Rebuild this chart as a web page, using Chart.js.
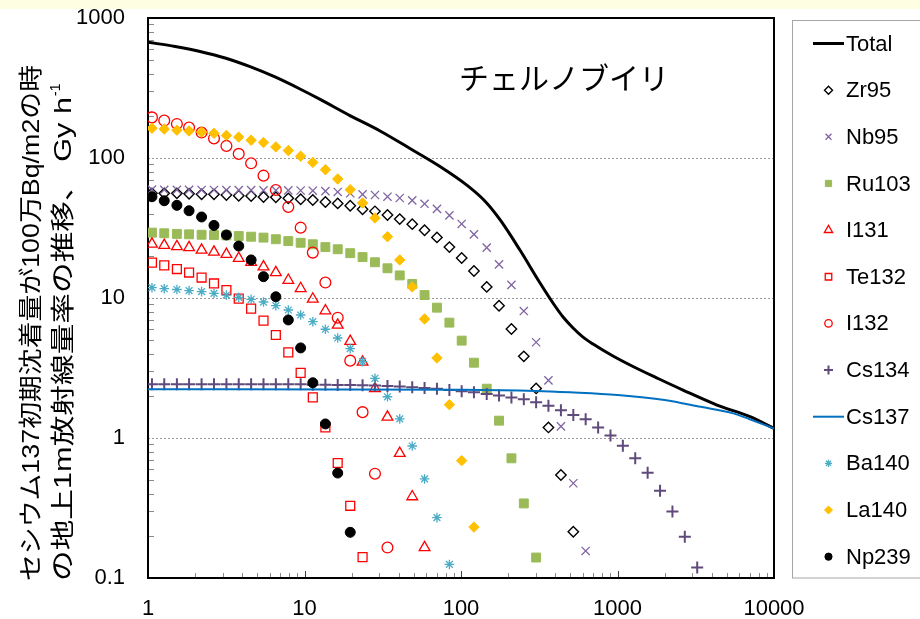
<!DOCTYPE html>
<html>
<head>
<meta charset="utf-8">
<script src="https://cdn.jsdelivr.net/npm/chart.js@4.4.0/dist/chart.umd.min.js"></script>
<style>
  html, body { margin: 0; padding: 0; background: #ffffff; }
  canvas { display: block; }
</style>
</head>
<body>
<canvas id="chart" width="920" height="619"></canvas>
<script>
// Elapsed time after deposition (days) at which each nuclide is sampled
const days = [1.06, 1.27, 1.53, 1.83, 2.2, 2.64, 3.17, 3.8, 4.56, 5.47, 6.56, 7.88, 9.45, 11.3, 13.6,
  16.3, 19.6, 23.5, 28.2, 33.9, 40.6, 48.8, 58.5, 70.2, 84.3, 101, 121, 146, 175, 210, 252, 302, 362,
  435, 522, 626, 752, 902, 1082, 1298, 1558, 1870, 2244, 2692, 3231];

// Dose rate at 1 m above ground per nuclide, one value per entry of `days`
const zr95 = [55.9, 55.9, 55.9, 55.6, 55.0, 55.0, 54.4, 53.8, 53.5, 52.6, 52.4, 51.5, 50.7, 50.1, 48.5,
  47.4, 45.6, 43.0, 41.6, 39.2, 36.6, 33.7, 30.5, 27.1, 23.1, 19.3, 15.6, 12.0, 8.81, 6.01, 3.83, 2.26,
  1.19, 0.544, 0.214];
const nb95 = [59.4, 59.3, 59.3, 59.2, 59.1, 59.1, 59.0, 59.0, 58.9, 58.8, 58.8, 58.7, 58.6, 58.4, 58.0,
  57.2, 56.0, 55.0, 54.4, 52.9, 51.8, 49.8, 47.1, 43.3, 38.9, 33.8, 28.5, 22.9, 17.4, 12.4, 8.07, 4.83,
  2.58, 1.21, 0.475, 0.156];
const ru103 = [29.3, 29.0, 28.7, 28.5, 28.3, 28.2, 28.0, 27.7, 27.4, 27.0, 26.3, 25.5, 24.8, 24.2, 23.1,
  22.3, 20.9, 19.6, 18.0, 16.3, 14.5, 12.6, 10.5, 8.53, 6.67, 4.96, 3.45, 2.25, 1.33, 0.716, 0.341, 0.140];
const i131 = [24.3, 23.8, 23.3, 22.9, 22.0, 21.3, 20.5, 19.2, 18.0, 16.7, 15.2, 13.4, 11.7, 9.84, 8.11,
  6.41, 4.90, 3.49, 2.26, 1.41, 0.777, 0.381, 0.165];
const te132 = [17.9, 17.1, 16.1, 15.2, 14.0, 12.7, 11.4, 9.89, 8.39, 6.89, 5.44, 4.09, 2.92, 1.95, 1.19,
  0.663, 0.328, 0.141];
const i132 = [195, 185, 175, 165, 152, 138, 122, 107, 91.7, 74.8, 59.1, 44.7, 31.8, 21.1, 12.9, 7.23,
  3.57, 1.53, 0.556, 0.165];
const cs134 = [2.42, 2.42, 2.42, 2.42, 2.42, 2.42, 2.42, 2.42, 2.42, 2.42, 2.42, 2.42, 2.42, 2.40, 2.40,
  2.39, 2.39, 2.38, 2.37, 2.35, 2.33, 2.30, 2.28, 2.25, 2.20, 2.16, 2.12, 2.06, 2.01, 1.95, 1.89, 1.80,
  1.70, 1.58, 1.46, 1.36, 1.19, 1.04, 0.88, 0.716, 0.565, 0.42, 0.298, 0.197, 0.119];
const ba140 = [11.85, 11.65, 11.5, 11.3, 11.1, 10.8, 10.5, 10.1, 9.79, 9.36, 8.81, 8.21, 7.56, 6.77, 5.98,
  5.18, 4.35, 3.51, 2.67, 1.97, 1.37, 0.877, 0.51, 0.27, 0.125];
const la140 = [163, 161, 158, 156, 153, 150, 145, 141, 134, 129, 120, 113, 103, 93, 82.5, 70.8, 59.4,
  47.7, 37.3, 27.4, 18.7, 12.0, 7.08, 3.73, 1.73, 0.689, 0.231];
const np239 = [52.9, 49.5, 45.9, 42.0, 37.9, 33.0, 28.2, 23.5, 18.7, 14.2, 10.2, 6.97, 4.40, 2.48, 1.26,
  0.562, 0.212];

// Continuous curves: Cs-137 and the sum of all nuclides
const cs137Days = [1, 100, 300, 500, 1000, 2000, 3400, 5500, 7000, 10000];
const cs137 = [2.23, 2.21, 2.17, 2.12, 2.03, 1.87, 1.67, 1.50, 1.36, 1.17];
const totalDays = [1, 1.49, 2.15, 3.11, 4.49, 6.48, 9.36, 12.6, 19.5, 30.4, 47.2, 73.4, 109, 142, 178,
  238, 320, 387, 449, 520, 602, 698, 936, 1256, 1815, 2621, 4323, 7026, 10000];
const total = [671, 626, 577, 518, 449, 379, 311, 262, 201, 156, 117, 87, 64, 49.3, 36.1,
  22.0, 12.8, 9.21, 7.31, 6.11, 5.26, 4.69, 3.85, 3.24, 2.66, 2.20, 1.72, 1.42, 1.17];

// Axis tick labels (one per decade)
const xTickLabels = ['1', '10', '100', '1000', '10000'];
const yTickLabels = ['0.1', '1', '10', '100', '1000'];

const chartTitle = 'チェルノブイリ';
const yTitleLine1 = 'セシウム137初期沈着量が100万Bq/m2の時';
const yTitleLine2 = 'の地上1m放射線量率の推移、 Gy h';
const yTitleSup = '-1';

// Marker appearance per nuclide
const markerStyles = {
  Zr95:  { pointStyle: 'rectRot',  radius: 5.2, color: '#000000', fill: false, bw: 1.4, legendR: 4 },
  Nb95:  { pointStyle: 'crossRot', radius: 5.8, color: '#8064A2', fill: false, bw: 1.3, legendR: 4.2 },
  Ru103: { pointStyle: 'rect',     radius: 6.3, color: '#9BBB59', fill: true,  bw: 1,   legendR: 4.4 },
  I131:  { pointStyle: 'triangle', radius: 6.2, color: '#FF0000', fill: false, bw: 1.3, legendR: 4.8 },
  Te132: { pointStyle: 'rect',     radius: 6.3, color: '#FF0000', fill: false, bw: 1.3, legendR: 4.6 },
  I132:  { pointStyle: 'circle',   radius: 5.4, color: '#FF0000', fill: false, bw: 1.3, legendR: 3.7 },
  Cs134: { pointStyle: 'cross',    radius: 6,   color: '#604A7B', fill: false, bw: 2,   legendR: 4.5 },
  Ba140: { pointStyle: 'star',     radius: 4.8, color: '#4BACC6', fill: false, bw: 1.3, legendR: 3.6 },
  La140: { pointStyle: 'rectRot',  radius: 5.2, color: '#FFC000', fill: true,  bw: 1,   legendR: 4 },
  Np239: { pointStyle: 'circle',   radius: 5,   color: '#000000', fill: true,  bw: 1,   legendR: 3.6 }
};

const pairs = (xs, ys) => ys.map((v, i) => ({ x: xs[i], y: v }));

function markerSet(label, values) {
  const s = markerStyles[label];
  return {
    label,
    data: pairs(days, values),
    showLine: false,
    pointStyle: s.pointStyle,
    pointRadius: s.radius,
    pointBorderWidth: s.bw,
    borderColor: s.color,
    backgroundColor: s.fill ? s.color : 'rgba(0,0,0,0)',
    pointBorderColor: s.color,
    pointBackgroundColor: s.fill ? s.color : 'rgba(0,0,0,0)'
  };
}

const lineSets = {
  Total: { color: '#000000', width: 3 },
  Cs137: { color: '#0070C0', width: 2 }
};

const datasets = [
  { label: 'Total', data: pairs(totalDays, total), showLine: true, pointRadius: 0,
    borderColor: lineSets.Total.color, borderWidth: lineSets.Total.width,
    tension: 0.4, cubicInterpolationMode: 'monotone' },
  markerSet('Zr95', zr95),
  markerSet('Nb95', nb95),
  markerSet('Ru103', ru103),
  markerSet('I131', i131),
  markerSet('Te132', te132),
  markerSet('I132', i132),
  markerSet('Cs134', cs134),
  { label: 'Cs137', data: pairs(cs137Days, cs137), showLine: true, pointRadius: 0,
    borderColor: lineSets.Cs137.color, borderWidth: lineSets.Cs137.width,
    tension: 0.4, cubicInterpolationMode: 'monotone' },
  markerSet('Ba140', ba140),
  markerSet('La140', la140),
  markerSet('Np239', np239)
];
// later series are painted on top
datasets.forEach((d, i) => { d.order = datasets.length - i; });

const LATIN = "'Liberation Sans', Arial, sans-serif";
const JP = "'Liberation Sans', 'Noto Sans CJK JP', sans-serif";

const decade = v => Math.round(Math.log10(v));
const isDecade = v => v > 0 && Math.abs(Math.log10(v) - decade(v)) < 1e-6;

function drawMarker(c, style, r, x, y) {
  c.save();
  c.strokeStyle = style.color;
  c.fillStyle = style.fill ? style.color : 'rgba(0,0,0,0)';
  c.lineWidth = style.bw;
  Chart.helpers.drawPoint(c, { pointStyle: style.pointStyle, radius: r, borderWidth: style.bw, rotation: 0 }, x, y);
  c.restore();
}

function drawVertical(c, text, cx, yStart, len, font) {
  c.save();
  c.font = font;
  const w = c.measureText(text).width;
  c.translate(cx, yStart);
  c.rotate(-Math.PI / 2);
  c.scale(len / w, 1);
  c.textAlign = 'left';
  c.textBaseline = 'middle';
  c.fillStyle = '#000';
  c.fillText(text, 0, 0);
  c.restore();
}

const decor = {
  id: 'decor',
  beforeDraw(chart) {
    const c = chart.ctx;
    c.save();
    c.fillStyle = '#ffffff';
    c.fillRect(0, 0, chart.width, chart.height);
    c.fillStyle = '#fefee2';
    c.fillRect(0, 0, chart.width, 9);
    c.restore();
  },
  beforeDatasetsDraw(chart) {
    const { ctx: c, chartArea: a, scales: { x, y } } = chart;
    c.save();
    c.lineWidth = 1;
    // inward minor ticks on the value axis
    c.strokeStyle = '#8a8a8a';
    for (let e = -1; e < 3; e++) {
      for (let m = 2; m <= 9; m++) {
        const py = Math.round(y.getPixelForValue(m * Math.pow(10, e))) + 0.5;
        c.beginPath(); c.moveTo(a.left, py); c.lineTo(a.left + 6, py); c.stroke();
      }
    }
    // inward minor and decade ticks on the time axis
    for (let e = 0; e < 4; e++) {
      for (let m = 2; m <= 9; m++) {
        const px = Math.round(x.getPixelForValue(m * Math.pow(10, e))) + 0.5;
        c.strokeStyle = '#8a8a8a';
        c.beginPath(); c.moveTo(px, a.bottom); c.lineTo(px, a.bottom - 5); c.stroke();
      }
    }
    for (let e = 1; e < 4; e++) {
      const px = Math.round(x.getPixelForValue(Math.pow(10, e))) + 0.5;
      c.strokeStyle = '#404040';
      c.beginPath(); c.moveTo(px, a.bottom); c.lineTo(px, a.bottom - 7); c.stroke();
    }
    // plot frame
    c.strokeStyle = '#000000';
    c.lineWidth = 2;
    c.strokeRect(a.left, a.top, a.right - a.left, a.bottom - a.top);
    c.restore();
  },
  afterDraw(chart) {
    const c = chart.ctx;
    c.save();
    // chart title inside the plot
    c.fillStyle = '#000';
    c.font = "30px 'Noto Sans CJK JP', sans-serif";
    c.textAlign = 'center';
    c.textBaseline = 'middle';
    c.fillText(chartTitle, 564, 78);

    // legend box
    c.strokeStyle = '#a6a6a6';
    c.lineWidth = 1;
    c.strokeRect(792.5, 20.5, 160, 557.5);
    const names = chart.data.datasets.map(d => d.label);
    c.font = '22px ' + LATIN;
    c.textAlign = 'left';
    c.textBaseline = 'middle';
    names.forEach((name, i) => {
      const yy = 43.5 + i * 46.65;
      if (lineSets[name]) {
        c.save();
        c.strokeStyle = lineSets[name].color;
        c.lineWidth = lineSets[name].width;
        c.beginPath(); c.moveTo(813, yy); c.lineTo(844, yy); c.stroke();
        c.restore();
      } else {
        drawMarker(c, markerStyles[name], markerStyles[name].legendR, 828.5, yy);
      }
      c.fillStyle = '#000';
      c.fillText(name, 846, yy + 1);
    });

    // value-axis title (two rotated lines)
    const f = '24px ' + JP;
    drawVertical(c, yTitleLine1, 32, 581, 516, f);
    drawVertical(c, yTitleLine2, 64, 581, 484, f);
    c.save();
    c.font = '14px ' + LATIN;
    c.translate(64, 581 - 484);
    c.rotate(-Math.PI / 2);
    c.textAlign = 'left';
    c.textBaseline = 'middle';
    c.fillStyle = '#000';
    c.fillText(yTitleSup, 1, -8);
    c.restore();
    c.restore();
  }
};

new Chart(document.getElementById('chart'), {
  type: 'scatter',
  data: { datasets },
  options: {
    responsive: false,
    animation: false,
    events: [],
    layout: { padding: { top: 18, right: 146, left: 0, bottom: 0 } },
    plugins: { legend: { display: false }, tooltip: { enabled: false } },
    scales: {
      x: {
        type: 'logarithmic', min: 1, max: 10000, position: 'bottom',
        afterFit: s => { s.height = 41; s.paddingLeft = 0; s.paddingRight = 0; },
        grid: { display: false },
        border: { display: false },
        ticks: {
          autoSkip: false, maxRotation: 0, padding: 10, color: '#000',
          font: { family: LATIN, size: 22 },
          callback: v => isDecade(v) ? xTickLabels[decade(v)] : ''
        }
      },
      y: {
        type: 'logarithmic', min: 0.1, max: 1000, position: 'left',
        afterFit: s => { s.width = 148; s.paddingTop = 0; s.paddingBottom = 0; },
        grid: {
          drawTicks: false, lineWidth: 1,
          color: ctx => {
            const v = ctx.tick && ctx.tick.value;
            return (isDecade(v) && v > 0.5 && v < 500) ? '#9a9a9a' : 'rgba(0,0,0,0)';
          }
        },
        border: { display: false, dash: [2, 2] },
        ticks: {
          autoSkip: false, padding: 23, color: '#000',
          font: { family: LATIN, size: 22 },
          callback: v => isDecade(v) ? yTickLabels[decade(v) + 1] : ''
        }
      }
    }
  },
  plugins: [decor]
});
</script>
</body>
</html>
